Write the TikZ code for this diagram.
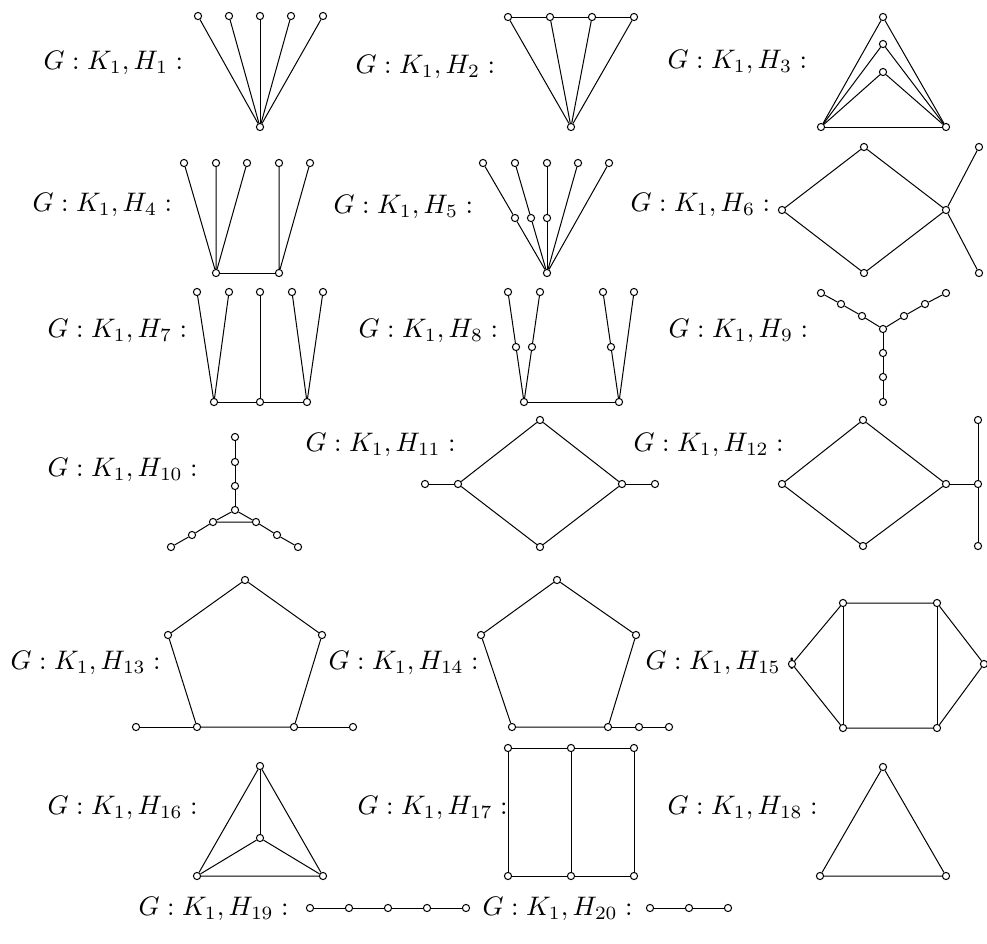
\documentclass[tikz,border=0pt]{standalone}
\usepackage{amsmath}
\usepackage{tikz}
\tikzset{
  vtx/.style = {circle, draw, fill=white, inner sep=0pt, minimum size=3.6pt},
  lab/.style = {anchor=west, inner sep=0pt, scale=1.34}
}

\begin{document}
\begin{tikzpicture}[x=0.5pt,y=-0.5pt,line width=0.5pt]
  \useasboundingbox (0,0) rectangle (987,944);
  % labels
  \foreach \n/\x/\y in {1/43/63,2/355/67,3/667/62,4/32/205,5/333/207,6/630/205,
      7/47/331,8/358/331,9/668/331,10/47/470,11/305/445,12/633/445,
      13/10/663,14/328/663,15/645/663,16/47/808,17/357/808,18/667/808,
      19/138/909,20/482/909}
    \node[lab] (L\n) at (\x,\y) {$G: K_1, H_{\n}:$};

  % H1
  \node[vtx] (h1b) at (260,127) {};
  \foreach \i/\x in {1/198,2/229,3/260,4/291,5/323}{
    \node[vtx] (h1t\i) at (\x,16) {};
    \draw (h1b) -- (h1t\i);
  }
  % H2
  \node[vtx] (h2b) at (571,127) {};
  \foreach \i/\x in {1/508,2/550,3/592,4/634}{
    \node[vtx] (h2t\i) at (\x,17) {};
    \draw (h2b) -- (h2t\i);
  }
  \draw (h2t1) -- (h2t2) -- (h2t3) -- (h2t4);
  % H3
  \node[vtx] (h3l) at (821,127) {};
  \node[vtx] (h3r) at (946,127) {};
  \foreach \i/\y in {1/17,2/44,3/72}{
    \node[vtx] (h3a\i) at (883,\y) {};
    \draw (h3l) -- (h3a\i) -- (h3r);
  }
  \draw (h3l) -- (h3r);

  % H4
  \node[vtx] (h4l) at (216,273) {};
  \node[vtx] (h4r) at (279,273) {};
  \foreach \i/\x in {1/184,2/216,3/247,4/279,5/310}
    \node[vtx] (h4t\i) at (\x,163) {};
  \draw (h4t1) -- (h4l) -- (h4t2);
  \draw (h4l) -- (h4t3);
  \draw (h4t4) -- (h4r) -- (h4t5);
  \draw (h4l) -- (h4r);
  % H5
  \node[vtx] (h5b) at (547,273) {};
  \foreach \i/\x in {1/483,2/515,3/547,4/578,5/609}
    \node[vtx] (h5t\i) at (\x,163) {};
  \foreach \i/\x in {1/515,2/531,3/547}
    \node[vtx] (h5m\i) at (\x,218) {};
  \draw (h5t1) -- (h5m1) -- (h5b);
  \draw (h5t2) -- (h5m2) -- (h5b);
  \draw (h5t3) -- (h5m3) -- (h5b);
  \draw (h5t4) -- (h5b) -- (h5t5);
  % H6
  \node[vtx] (h6l) at (782,210) {};
  \node[vtx] (h6t) at (864,147) {};
  \node[vtx] (h6b) at (864,273) {};
  \node[vtx] (h6r) at (946,210) {};
  \node[vtx] (h6u) at (979,147) {};
  \node[vtx] (h6d) at (979,273) {};
  \draw (h6l) -- (h6t) -- (h6r) -- (h6b) -- (h6l);
  \draw (h6u) -- (h6r) -- (h6d);

  % H7
  \foreach \i/\x in {1/197,2/229,3/260,4/292,5/323}
    \node[vtx] (h7t\i) at (\x,292) {};
  \foreach \i/\x in {1/214,2/260,3/307}
    \node[vtx] (h7b\i) at (\x,402) {};
  \draw (h7t1) -- (h7b1) -- (h7t2);
  \draw (h7t3) -- (h7b2);
  \draw (h7t4) -- (h7b3) -- (h7t5);
  \draw (h7b1) -- (h7b2) -- (h7b3);
  % H8
  \foreach \i/\x in {1/508,2/540,3/603,4/634}
    \node[vtx] (h8t\i) at (\x,292) {};
  \foreach \i/\x in {1/516,2/532,3/611}
    \node[vtx] (h8m\i) at (\x,347) {};
  \node[vtx] (h8l) at (524,402) {};
  \node[vtx] (h8r) at (619,402) {};
  \draw (h8t1) -- (h8m1) -- (h8l) -- (h8m2) -- (h8t2);
  \draw (h8t3) -- (h8m3) -- (h8r) -- (h8t4);
  \draw (h8l) -- (h8r);
  % H9
  \node[vtx] (h9c) at (883,329) {};
  \foreach \i/\x/\y in {1/862/316,2/841/304,3/821/293}
    \node[vtx] (h9u\i) at (\x,\y) {};
  \foreach \i/\x/\y in {1/904/316,2/925/304,3/946/293}
    \node[vtx] (h9v\i) at (\x,\y) {};
  \foreach \i/\y in {1/353,2/377,3/402}
    \node[vtx] (h9d\i) at (883,\y) {};
  \draw (h9u3) -- (h9u2) -- (h9u1) -- (h9c) -- (h9v1) -- (h9v2) -- (h9v3);
  \draw (h9c) -- (h9d1) -- (h9d2) -- (h9d3);

  % H10
  \foreach \i/\y in {1/437,2/462,3/486}
    \node[vtx] (h10a\i) at (235,\y) {};
  \node[vtx] (h10c) at (235,510) {};
  \node[vtx] (h10l) at (213,522) {};
  \node[vtx] (h10r) at (256,522) {};
  \node[vtx] (h10l1) at (192,535) {};
  \node[vtx] (h10l2) at (171,547) {};
  \node[vtx] (h10r1) at (277,535) {};
  \node[vtx] (h10r2) at (298,547) {};
  \draw (h10a1) -- (h10a2) -- (h10a3) -- (h10c);
  \draw (h10c) -- (h10l) -- (h10r) -- (h10c);
  \draw (h10l) -- (h10l1) -- (h10l2);
  \draw (h10r) -- (h10r1) -- (h10r2);
  % H11
  \node[vtx] (h11t) at (540,420) {};
  \node[vtx] (h11l) at (458,484) {};
  \node[vtx] (h11r) at (622,484) {};
  \node[vtx] (h11b) at (540,547) {};
  \node[vtx] (h11p) at (425,484) {};
  \node[vtx] (h11q) at (655,484) {};
  \draw (h11l) -- (h11t) -- (h11r) -- (h11b) -- (h11l);
  \draw (h11p) -- (h11l);
  \draw (h11r) -- (h11q);
  % H12
  \node[vtx] (h12t) at (863,420) {};
  \node[vtx] (h12l) at (782,484) {};
  \node[vtx] (h12r) at (946,484) {};
  \node[vtx] (h12b) at (863,546) {};
  \node[vtx] (h12c) at (978,484) {};
  \node[vtx] (h12u) at (978,420) {};
  \node[vtx] (h12d) at (978,546) {};
  \draw (h12l) -- (h12t) -- (h12r) -- (h12b) -- (h12l);
  \draw (h12r) -- (h12c);
  \draw (h12u) -- (h12c) -- (h12d);

  % H13
  \node[vtx] (h13t) at (245,580) {};
  \node[vtx] (h13ul) at (168,635) {};
  \node[vtx] (h13ur) at (322,635) {};
  \node[vtx] (h13bl) at (197,727) {};
  \node[vtx] (h13br) at (294,727) {};
  \node[vtx] (h13p) at (136,727) {};
  \node[vtx] (h13q) at (353,727) {};
  \draw (h13t) -- (h13ur) -- (h13br) -- (h13bl) -- (h13ul) -- (h13t);
  \draw (h13p) -- (h13bl);
  \draw (h13br) -- (h13q);
  % H14
  \node[vtx] (h14t) at (557,580) {};
  \node[vtx] (h14ul) at (481,635) {};
  \node[vtx] (h14ur) at (636,635) {};
  \node[vtx] (h14bl) at (512,727) {};
  \node[vtx] (h14br) at (608,727) {};
  \node[vtx] (h14p) at (639,727) {};
  \node[vtx] (h14q) at (669,727) {};
  \draw (h14t) -- (h14ur) -- (h14br) -- (h14bl) -- (h14ul) -- (h14t);
  \draw (h14br) -- (h14p) -- (h14q);
  % H15
  \node[vtx] (h15l) at (792,664) {};
  \node[vtx] (h15tl) at (843,603) {};
  \node[vtx] (h15tr) at (937,603) {};
  \node[vtx] (h15bl) at (843,728) {};
  \node[vtx] (h15br) at (937,728) {};
  \node[vtx] (h15r) at (984,664) {};
  \draw (h15l) -- (h15tl) -- (h15tr) -- (h15r) -- (h15br) -- (h15bl) -- (h15l);
  \draw (h15tl) -- (h15bl);
  \draw (h15tr) -- (h15br);

  % H16
  \node[vtx] (h16t) at (260,766) {};
  \node[vtx] (h16c) at (260,838) {};
  \node[vtx] (h16l) at (197,876) {};
  \node[vtx] (h16r) at (323,876) {};
  \draw (h16l) -- (h16t) -- (h16r) -- (h16l);
  \draw (h16t) -- (h16c);
  \draw (h16l) -- (h16c) -- (h16r);
  % H17
  \foreach \i/\x in {1/508,2/571,3/634}{
    \node[vtx] (h17t\i) at (\x,748) {};
    \node[vtx] (h17b\i) at (\x,876) {};
    \draw (h17t\i) -- (h17b\i);
  }
  \draw (h17t1) -- (h17t2) -- (h17t3);
  \draw (h17b1) -- (h17b2) -- (h17b3);
  % H18
  \node[vtx] (h18t) at (883,767) {};
  \node[vtx] (h18l) at (820,876) {};
  \node[vtx] (h18r) at (946,876) {};
  \draw (h18l) -- (h18t) -- (h18r) -- (h18l);

  % H19, H20
  \foreach \i/\x in {1/310,2/349,3/388,4/427,5/466}
    \node[vtx] (h19n\i) at (\x,908) {};
  \draw (h19n1) -- (h19n2) -- (h19n3) -- (h19n4) -- (h19n5);
  \foreach \i/\x in {1/650,2/689,3/728}
    \node[vtx] (h20n\i) at (\x,908) {};
  \draw (h20n1) -- (h20n2) -- (h20n3);
\end{tikzpicture}
\end{document}
